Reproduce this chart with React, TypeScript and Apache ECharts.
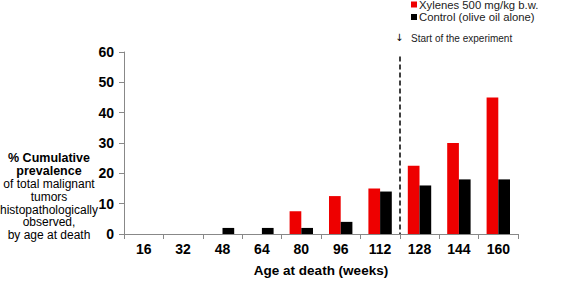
import React, { useEffect, useRef } from "react";
import * as echarts from "echarts";

const categories = ["16", "32", "48", "64", "80", "96", "112", "128", "144", "160"];
const xylenes = [0, 0, 0, 0, 7.5, 12.5, 15, 22.5, 30, 45];
const control = [0, 0, 2, 2, 2, 4, 14, 16, 18, 18];
const experimentStart = 7; // boundary between 112 and 128 on a 0..10 scale
const FONT = "Liberation Sans, Arial, sans-serif";

export default function App() {
  const ref = useRef<HTMLDivElement>(null);
  useEffect(() => {
    const chart = echarts.init(ref.current!, undefined, { renderer: "svg" });
    chart.setOption({
      animation: false,
      textStyle: { fontFamily: FONT },
      grid: { left: 124, right: 49, top: 52, bottom: 36.5 },
      legend: {
        orient: "vertical",
        left: 411,
        top: -1,
        padding: 0,
        itemWidth: 6,
        itemHeight: 6,
        itemGap: 1.5,
        icon: "rect",
        textStyle: { fontSize: 11.3, lineHeight: 11, color: "#222", fontFamily: FONT, padding: [0, 0, 0, -3] },
        data: ["Xylenes 500 mg/kg b.w.", "Control (olive oil alone)"],
      },
      xAxis: [
        {
          type: "category",
          data: categories,
          name: "Age at death (weeks)",
          nameLocation: "middle",
          nameGap: 29,
          nameTextStyle: { fontSize: 13.5, fontWeight: "bold", color: "#000", fontFamily: FONT },
          axisLine: { lineStyle: { color: "#888" } },
          axisTick: { show: true, length: 5, lineStyle: { color: "#888" } },
          axisLabel: { fontSize: 14, fontWeight: "bold", color: "#000", margin: 8, fontFamily: FONT },
        },
        { type: "value", min: 0, max: 10, show: false },
      ],
      yAxis: {
        type: "value",
        min: 0,
        max: 60,
        interval: 10,
        splitLine: { show: false },
        axisLine: { show: true, lineStyle: { color: "#888" } },
        axisTick: { show: true, length: 5, lineStyle: { color: "#888" } },
        axisLabel: { fontSize: 14, fontWeight: "bold", color: "#000", margin: 10, fontFamily: FONT },
      },
      series: [
        {
          name: "Xylenes 500 mg/kg b.w.",
          type: "bar",
          data: xylenes,
          barWidth: "29.7%",
          barGap: "0%",
          itemStyle: { color: "#ee0000" },
        },
        {
          name: "Control (olive oil alone)",
          type: "bar",
          data: control,
          barWidth: "29.7%",
          barGap: "0%",
          itemStyle: { color: "#000" },
        },
        {
          type: "line",
          xAxisIndex: 1,
          data: [],
          markLine: {
            silent: true,
            symbol: "none",
            label: { show: false },
            lineStyle: { type: [5, 3], color: "#000", width: 1.5 },
            data: [[{ coord: [experimentStart, 58.5] }, { coord: [experimentStart, 0] }]],
          },
        },
      ],
      graphic: [
        {
          type: "text",
          left: 395,
          top: 32,
          style: { text: "↓", fontSize: 10, fill: "#000", fontFamily: "DejaVu Sans" },
        },
        {
          type: "text",
          left: 411,
          top: 33,
          style: { text: "Start of the experiment", fontSize: 10, fill: "#222", fontFamily: FONT },
        },
        {
          type: "text",
          x: 49,
          y: 152,
          style: {
            text:
              "{b|% Cumulative}\n{b|prevalence}\n{n|of total malignant}\n{n|tumors}\n{n|histopathologically}\n{n|observed,}\n{n|by age at death}",
            align: "center",
            fill: "#000",
            rich: {
              b: { fontSize: 12.5, fontWeight: "bold", lineHeight: 12.8, fontFamily: FONT, align: "center" },
              n: { fontSize: 12, lineHeight: 12.8, fontFamily: FONT, align: "center" },
            },
          },
        },
      ],
    });
    return () => chart.dispose();
  }, []);
  return <div ref={ref} style={{ width: 567, height: 282, position: "absolute", left: 0, top: 0 }} />;
}
